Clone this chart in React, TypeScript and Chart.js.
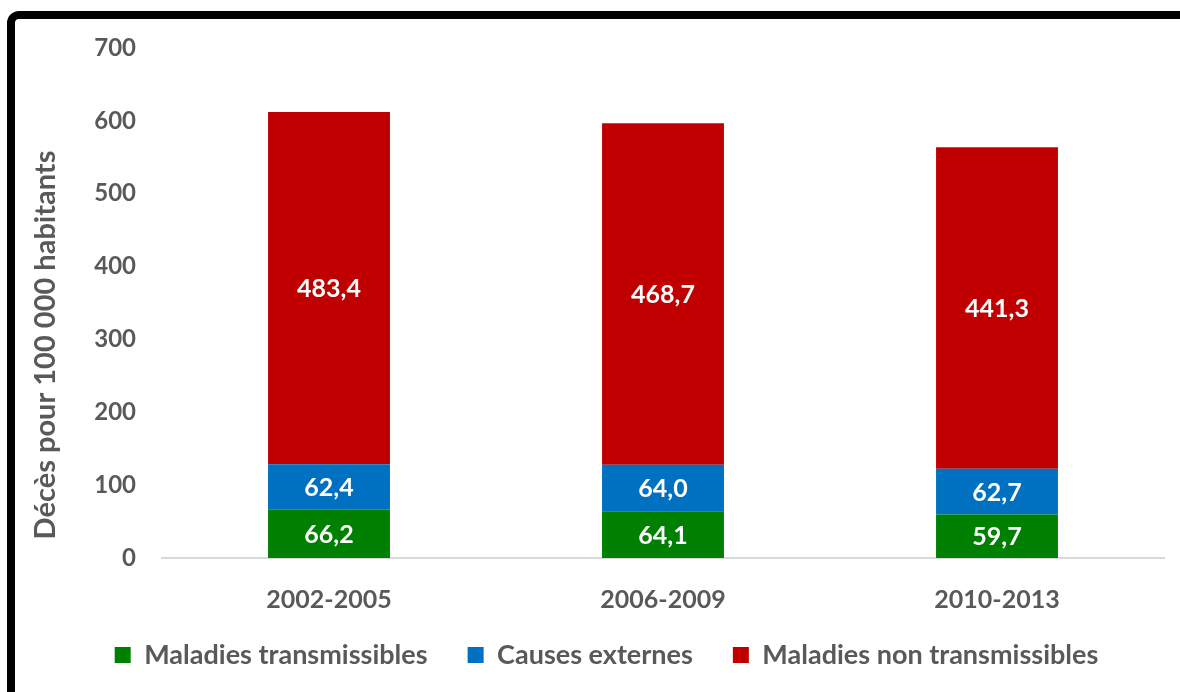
import React, { useEffect, useRef } from "react";
import { Chart, registerables } from "chart.js";

Chart.register(...registerables);

const categories = ["2002-2005", "2006-2009", "2010-2013"];
const transmissibles = [66.2, 64.1, 59.7];
const externes = [62.4, 64.0, 62.7];
const nonTransmissibles = [483.4, 468.7, 441.3];
const seriesLabels = ["Maladies transmissibles", "Causes externes", "Maladies non transmissibles"];
const yTitle = "Décès pour 100 000 habitants";

const FONT = "Lato, 'Open Sans', sans-serif";
const GREY = "#595959";

const fmt = (v: number) => v.toFixed(1).replace(".", ",");

const dataLabelPlugin = {
  id: "dataLabels",
  afterDatasetsDraw(chart: any) {
    const ctx = chart.ctx;
    ctx.save();
    ctx.font = `bold 25px ${FONT}`;
    ctx.fillStyle = "#ffffff";
    ctx.textAlign = "center";
    ctx.textBaseline = "middle";
    chart.data.datasets.forEach((ds: any, di: number) => {
      const meta = chart.getDatasetMeta(di);
      meta.data.forEach((el: any, i: number) => {
        const p = el.getProps(["x", "y", "base"], true);
        ctx.fillText(fmt(ds.data[i]), p.x, (p.y + p.base) / 2 + 1);
      });
    });
    ctx.restore();
  },
};

const yTitlePlugin = {
  id: "yTitleCustom",
  afterDraw(chart: any) {
    const ctx = chart.ctx;
    ctx.save();
    ctx.font = `bold 29px ${FONT}`;
    ctx.fillStyle = GREY;
    ctx.textAlign = "center";
    ctx.textBaseline = "middle";
    ctx.translate(46, 345);
    ctx.rotate(-Math.PI / 2);
    ctx.fillText(yTitle, 0, 0);
    ctx.restore();
  },
};

// move the legend row up a little (its padding is also used for the horizontal gaps)
const legendShiftPlugin = {
  id: "legendShift",
  afterLayout(chart: any) {
    const lg = chart.legend;
    if (lg) {
      lg.top -= 13.5;
      lg.bottom -= 13.5;
    }
  },
};

export default function App() {
  const ref = useRef<HTMLCanvasElement | null>(null);
  useEffect(() => {
    if (!ref.current) return;
    const chart = new Chart(ref.current, {
      type: "bar",
      data: {
        labels: categories,
        datasets: [
          { label: seriesLabels[0], data: transmissibles, backgroundColor: "#008000" },
          { label: seriesLabels[1], data: externes, backgroundColor: "#0070C0" },
          { label: seriesLabels[2], data: nonTransmissibles, backgroundColor: "#C00000" },
        ],
      },
      options: {
        animation: false,
        responsive: true,
        maintainAspectRatio: false,
        layout: { padding: { top: 48, right: 16, left: 49, bottom: 0 } },
        datasets: { bar: { categoryPercentage: 1, barPercentage: 0.365 } },
        scales: {
          x: {
            stacked: true,
            afterFit: (s: any) => { s.height = 57; },
            grid: { display: false, drawTicks: false },
            border: { display: true, color: "#d9d9d9", width: 2 },
            ticks: { color: GREY, font: { family: FONT, size: 25, weight: "bold" }, padding: 27 },
          },
          y: {
            stacked: true,
            min: 0,
            max: 700,
            afterFit: (s: any) => { s.width = 113; },
            grid: { display: false, drawTicks: false },
            border: { display: false },
            ticks: { stepSize: 100, color: GREY, font: { family: FONT, size: 24, weight: "bold" }, padding: 26 },
          },
        },
        plugins: {
          legend: {
            position: "bottom",
            labels: {
              color: GREY,
              font: { family: FONT, size: 27, weight: "bold" },
              boxWidth: 16,
              boxHeight: 16,
              padding: 40,
            },
          },
          tooltip: { enabled: false },
        },
      },
      plugins: [dataLabelPlugin, yTitlePlugin, legendShiftPlugin],
    });
    return () => chart.destroy();
  }, []);

  return (
    <div style={{ position: "fixed", left: 0, top: 0, width: 1180, height: 692, overflow: "hidden", background: "#fff" }}>
      <canvas ref={ref} />
      <div
        style={{
          position: "absolute",
          left: 7,
          top: 11,
          width: 1400,
          height: 900,
          border: "8px solid #000",
          borderRadius: 12,
          boxSizing: "border-box",
          pointerEvents: "none",
        }}
      />
    </div>
  );
}
